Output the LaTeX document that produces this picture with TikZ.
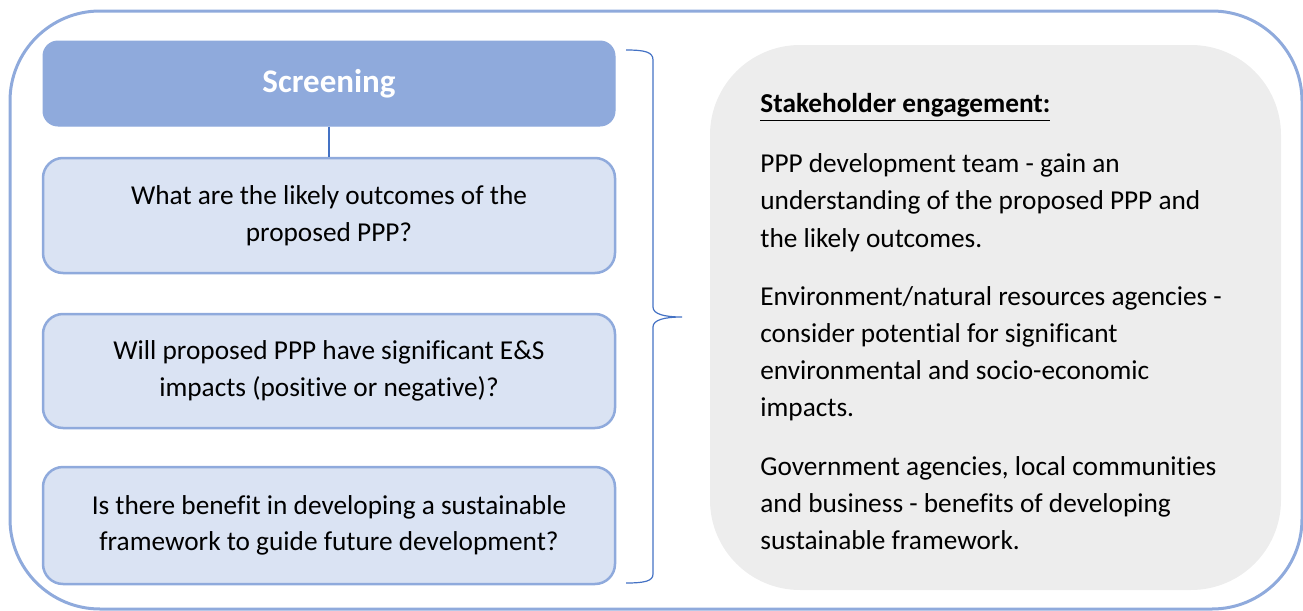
\documentclass[tikz,border=0pt]{standalone}
\usepackage{fontspec}
\setmainfont{Carlito}[Ligatures=NoCommon]
\definecolor{outerblue}{RGB}{143,170,220}
\definecolor{hdrfill}{RGB}{143,170,220}
\definecolor{qfill}{RGB}{218,227,243}
\definecolor{qdraw}{RGB}{143,170,220}
\definecolor{linkblue}{RGB}{68,114,196}
\definecolor{grayfill}{RGB}{237,237,237}
\tikzset{
  outerframe/.style={draw=outerblue, line width=1.5pt, rounded corners=45pt},
  hdrbox/.style={fill=hdrfill, draw=hdrfill, line width=0.5pt, rounded corners=7.5pt,
    minimum width=286pt, minimum height=42.5pt, inner sep=0pt, text=white,
    font=\fontsize{16.5pt}{20pt}\selectfont\bfseries},
  qbox/.style={fill=qfill, draw=qdraw, line width=1.25pt, rounded corners=10pt,
    minimum width=286pt, inner sep=0pt, align=center,
    font=\fontsize{13.65pt}{18.35pt}\selectfont},
  linkline/.style={draw=linkblue, line width=0.6pt},
  graybox/.style={fill=grayfill, draw=none, rounded corners=45pt,
    minimum width=285.5pt, minimum height=272.5pt, inner sep=0pt},
  engtext/.style={anchor=north west, align=left, inner sep=0pt,
    font=\fontsize{13.65pt}{18.6pt}\selectfont}
}
\begin{document}
\begin{tikzpicture}[x=0.5pt,y=-0.5pt]
\useasboundingbox (0,0) rectangle (1303,611);
\draw[outerframe] (10,11) rectangle (1302,609);
\node[hdrbox] (scr) at (329,83.5) {Screening};
\node[qbox, minimum height=57.5pt] (q1) at (329,215.5) {What are the likely outcomes of the\\proposed PPP?};
\node[qbox, minimum height=57pt] (q2) at (329,371) {Will proposed PPP have significant E\&S\\impacts (positive or negative)?};
\node[qbox, minimum height=58.5pt] (q3) at (329,525.5) {Is there benefit in developing a sustainable\\framework to guide future development?};
\draw[linkline] (scr.south) -- (q1.north);
% bracket
\coordinate (bt) at (626,50);
\coordinate (bb) at (626,583);
\coordinate (tip) at (682,317);
\draw[linkline] (bt) .. controls (645,50) and (653,52) .. (653,60) -- (653,307)
  .. controls (653,314) and (664,317) .. (tip)
  .. controls (664,317) and (653,320) .. (653,327) -- (653,574)
  .. controls (653,581) and (645,583) .. (bb);
\node[graybox] (eng) at (995.5,317.5) {};
\node[engtext] (engtxt) at (760,93) {\textbf{\underline{Stakeholder engagement:}}\\[11.5pt]
PPP development team - gain an\\
understanding of the proposed PPP and\\
the likely outcomes.\\[10.5pt]
Environment/natural resources agencies -\\
consider potential for significant\\
environmental and socio-economic\\
impacts.\\[10.5pt]
Government agencies, local communities\\
and business - benefits of developing\\
sustainable framework.};
\end{tikzpicture}
\end{document}
